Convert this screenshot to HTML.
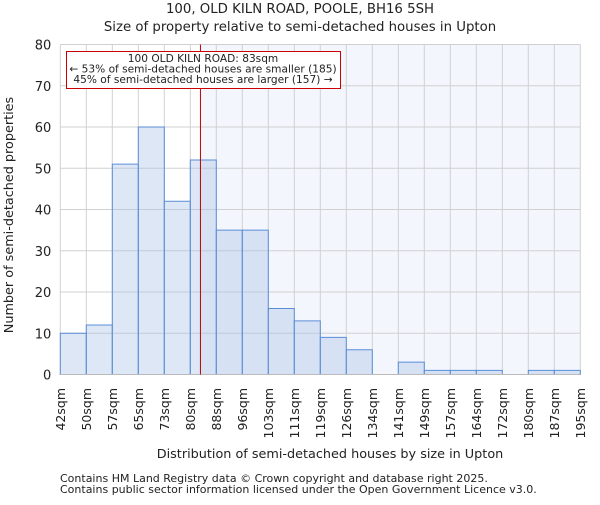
<!DOCTYPE html>
<html><head><meta charset="utf-8"><style>
body{margin:0;background:#fff;}
svg text{font-family:"DejaVu Sans","Liberation Sans",sans-serif;fill:#222;}
</style></head><body>
<svg id="chart" width="600" height="500" viewBox="0 0 600 500" xmlns="http://www.w3.org/2000/svg">
<text x="300" y="13" text-anchor="middle" font-size="13.3">100, OLD KILN ROAD, POOLE, BH16 5SH</text>
<text x="300" y="31" text-anchor="middle" font-size="13.3">Size of property relative to semi-detached houses in Upton</text>
<g id="plot"></g>
<text x="330" y="458" text-anchor="middle" font-size="12.8">Distribution of semi-detached houses by size in Upton</text>
<text transform="translate(13,215) rotate(-90)" text-anchor="middle" font-size="12.8">Number of semi-detached properties</text>
<text x="60" y="482" font-size="11" fill="#444">Contains HM Land Registry data © Crown copyright and database right 2025.</text>
<text x="60" y="493" font-size="11" fill="#444">Contains public sector information licensed under the Open Government Licence v3.0.</text>
</svg>
<script>
const binLabels=["42sqm","50sqm","57sqm","65sqm","73sqm","80sqm","88sqm","96sqm","103sqm","111sqm","119sqm","126sqm","134sqm","141sqm","149sqm","157sqm","164sqm","172sqm","180sqm","187sqm","195sqm"];
const counts=[10,12,51,60,42,52,35,35,16,13,9,6,0,3,1,1,1,0,1,1];
const yTicks=[0,10,20,30,40,50,60,70,80];
const propertyBinPos=[5.39];
const annotationLines=["100 OLD KILN ROAD: 83sqm","← 53% of semi-detached houses are smaller (185)","45% of semi-detached houses are larger (157) →"];
const NS="http://www.w3.org/2000/svg";
const g=document.getElementById('plot');
const X0=60.3,X1=580.3,Y0=374.5,Y1=44.5,YMAX=80;
const nb=counts.length;
const xs=i=>X0+(X1-X0)*i/nb;
const ys=v=>Y0-(Y0-Y1)*v/YMAX;
function mk(t,a){const e=document.createElementNS(NS,t);for(const k in a)e.setAttribute(k,a[k]);g.appendChild(e);return e;}
const px=xs(propertyBinPos[0]);
let e=mk('rect',{x:px,y:Y1,width:X1-px,height:Y0-Y1,fill:'#f3f6fd'});


for(let i=0;i<=nb;i++){e=mk('line',{x1:xs(i),x2:xs(i),y1:Y1,y2:Y0,stroke:'#d0d0d0','stroke-width':1});

}
yTicks.forEach(t=>{e=mk('line',{x1:X0,x2:X1,y1:ys(t),y2:ys(t),stroke:'#d0d0d0','stroke-width':1});


e=mk('text',{x:X0-9,y:ys(t)+5,'text-anchor':'end','font-size':13});e.textContent=t;

});
counts.forEach((c,i)=>{if(c<=0)return;e=mk('rect',{x:xs(i),y:ys(c),width:xs(i+1)-xs(i),height:Y0-ys(c),fill:'rgba(170,195,230,0.4)',stroke:'#5b8ed8','stroke-width':1});

});
e=mk('line',{x1:X0,x2:X1,y1:Y0,y2:Y0,stroke:'#bbb','stroke-width':1});


binLabels.forEach((l,i)=>{e=mk('text',{transform:`translate(${xs(i)+4.5},388) rotate(-90)`,'text-anchor':'end','font-size':12.5});e.textContent=l;

});
e=mk('line',{x1:px,x2:px,y1:Y1,y2:Y0,stroke:'#b00','stroke-width':1});


e=mk('rect',{x:66.5,y:51.5,width:274,height:37,fill:'#fff',stroke:'#c00','stroke-width':1});


annotationLines.forEach((l,i)=>{e=mk('text',{x:203,y:62+i*10.5,'text-anchor':'middle','font-size':10.6});e.textContent=l;

});
</script>
</body></html>
